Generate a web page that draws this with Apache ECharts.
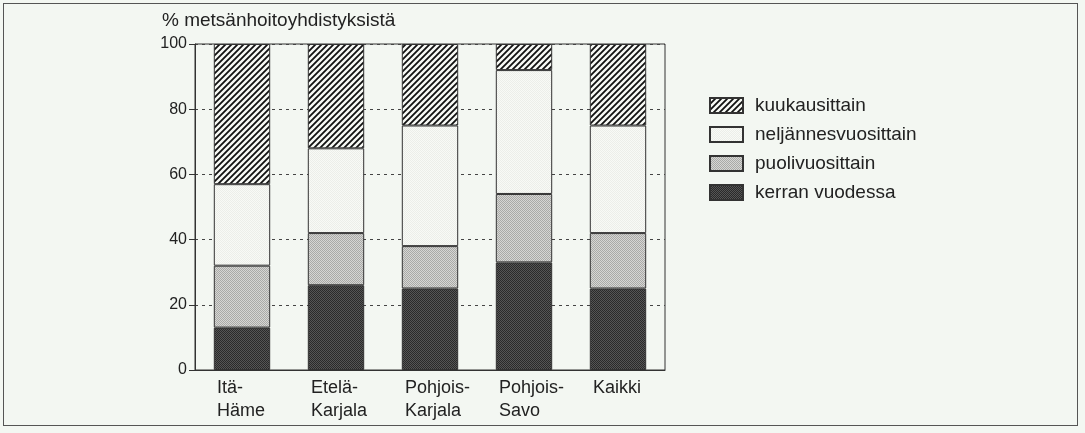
<!DOCTYPE html>
<html><head><meta charset="utf-8">
<script src="https://cdn.jsdelivr.net/npm/echarts@6/dist/echarts.min.js"></script>
<style>
html,body{margin:0;padding:0;background:#f3f7f2;}
#frame{position:absolute;left:3px;top:3px;width:1075px;height:423px;border:1.5px solid #555;box-sizing:border-box;}
#c{position:absolute;left:0;top:0;width:1085px;height:433px;}
</style></head>
<body><div id="frame"></div><div id="c"></div>
<script>
const categories = ['Itä-\nHäme', 'Etelä-\nKarjala', 'Pohjois-\nKarjala', 'Pohjois-\nSavo', 'Kaikki'];
const kerranVuodessa = [13, 26, 25, 33, 25];
const puolivuosittain = [19, 16, 13, 21, 17];
const neljannesvuosittain = [25, 26, 37, 38, 33];
const kuukausittain = [43, 32, 25, 8, 25];
const yTicks = [0, 20, 40, 60, 80, 100];
const axisTitle = '% metsänhoitoyhdistyksistä';

function tile(size, draw) {
  const c = document.createElement('canvas');
  c.width = size; c.height = size;
  draw(c.getContext('2d'), size);
  return c;
}
const hatch = tile(6, (g, s) => {
  g.fillStyle = '#f7f9f5'; g.fillRect(0, 0, s, s);
  g.strokeStyle = '#111'; g.lineWidth = 1.8;
  g.beginPath();
  g.moveTo(-1, s + 1); g.lineTo(s + 1, -1);
  g.moveTo(-1, 1); g.lineTo(1, -1);
  g.moveTo(s - 1, s + 1); g.lineTo(s + 1, s - 1);
  g.stroke();
});
function stipple(a, b) {
  return tile(2, (g) => {
    g.fillStyle = a; g.fillRect(0, 0, 2, 2);
    g.fillStyle = b; g.fillRect(0, 0, 1, 1); g.fillRect(1, 1, 1, 1);
  });
}
const lightDots = stipple('#f8faf6', '#eceee9');
const grayDots = stipple('#d6d6d4', '#a9aaa7');
const darkDots = stipple('#555', '#2a2a2a');

function pat(img) { return { image: img, repeat: 'repeat' }; }
const border = { borderColor: '#333', borderWidth: 1 };

const chart = echarts.init(document.getElementById('c'), null, { renderer: 'canvas' });
const font = 'Liberation Sans, Arial, Helvetica, sans-serif';
const mk = (name, data, img) => ({
  name, type: 'bar', stack: 'a', data, barWidth: '60%',
  itemStyle: Object.assign({ color: pat(img) }, border),
  emphasis: { disabled: true }
});
chart.setOption({
  animation: false,
  backgroundColor: 'transparent',
  textStyle: { fontFamily: font },
  title: {
    text: axisTitle, left: 162, top: 11, padding: 0,
    textStyle: { fontFamily: font, fontSize: 19, fontWeight: 'normal', color: '#222' }
  },
  grid: { left: 195, right: 420, top: 44, bottom: 63, show: true, borderColor: '#333', borderWidth: 1, backgroundColor: 'transparent' },
  legend: {
    orient: 'vertical', left: 709, top: 96, padding: 0, itemWidth: 33, itemHeight: 15, itemGap: 10,
    icon: 'rect',
    data: ['kuukausittain', 'neljännesvuosittain', 'puolivuosittain', 'kerran vuodessa'],
    textStyle: { fontFamily: font, fontSize: 19, lineHeight: 19, color: '#222', padding: [0, 0, 0, 7] },
    selectedMode: false
  },
  xAxis: {
    type: 'category', data: categories,
    axisLine: { lineStyle: { color: '#333', width: 1 } },
    axisTick: { show: false },
    axisLabel: {
      interval: 0, margin: 7, color: '#222', fontSize: 18, fontFamily: font, lineHeight: 23,
      formatter: v => v.split('\n').map(s => '{a|' + s + '}').join('\n'),
      rich: { a: { width: 50, align: 'left', fontSize: 18, fontFamily: font, color: '#222', lineHeight: 23 } }
    }
  },
  yAxis: {
    type: 'value', min: 0, max: 100, interval: 20,
    axisLine: { show: true, lineStyle: { color: '#333', width: 1 } },
    axisTick: { show: true, length: 6, lineStyle: { color: '#333' } },
    axisLabel: { color: '#222', fontSize: 16, fontFamily: font, margin: 8, formatter: v => yTicks.includes(v) ? String(v) : '' },
    splitLine: { show: true, lineStyle: { color: '#444', type: [3, 4], width: 1 } }
  },
  series: [
    mk('kerran vuodessa', kerranVuodessa, darkDots),
    mk('puolivuosittain', puolivuosittain, grayDots),
    mk('neljännesvuosittain', neljannesvuosittain, lightDots),
    mk('kuukausittain', kuukausittain, hatch)
  ]
});
</script></body></html>
